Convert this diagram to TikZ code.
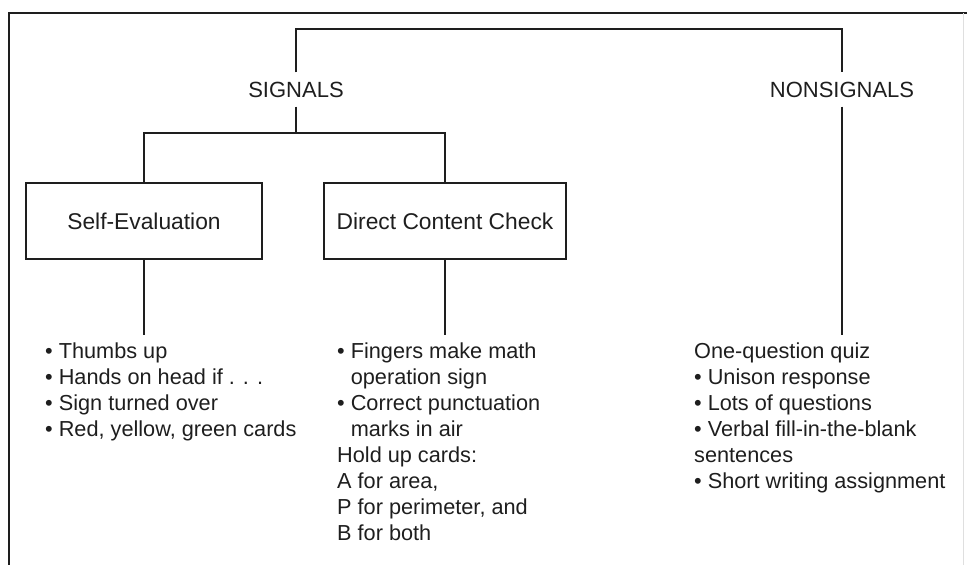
\documentclass[tikz,border=0pt]{standalone}
\usepackage{fontspec}
\setmainfont{Liberation Sans}
\definecolor{ink}{HTML}{1E1E1E}
\begin{document}
\begin{tikzpicture}[x=1pt,y=-1pt,
  line/.style={draw=ink,line width=1.5pt},
  head/.style={font=\fontsize{22}{26}\selectfont, text=ink, text height=15.8pt,
    text depth=0pt, inner xsep=4pt, inner ysep=9pt},
  catbox/.style={draw=ink, line width=1.5pt, font=\fontsize{22.8}{27}\selectfont,
    text=ink, minimum height=76pt, text height=16.3pt, text depth=0pt},
  items/.style={font=\fontsize{21.7}{26}\selectfont, text=ink, align=left,
    inner sep=0pt, anchor=north west}]

\useasboundingbox (0,0) rectangle (967,565);

% outer frame
\draw[ink, line width=1.8pt] (9,565) -- (9,13) -- (967,13);
\draw[gray!25, line width=1pt] (963,13) -- (963,565);

% levels of the tree
\coordinate (topbar) at (0,29);
\coordinate (midbar) at (0,133);

\node[head] (sig) at (296,89.5) {SIGNALS};
\node[head] (nonsig) at (842,89.5) {NONSIGNALS};

\node[catbox, minimum width=236pt] (self) at (144,221) {Self-Evaluation};
\node[catbox, minimum width=242pt] (direct) at (445,221) {Direct Content Check};

% example lists
\node[items] (selflist) at (45,343)
  {• Thumbs up\\• Hands on head if . . .\\• Sign turned over\\• Red, yellow, green cards};
\node[items] (directlist) at (337,343)
  {• Fingers make math\\\hphantom{•\ }operation sign\\• Correct punctuation\\\hphantom{•\ }marks in air\\Hold up cards:\\A for area,\\P for perimeter, and\\B for both};
\node[items] (nonlist) at (694,343)
  {One-question quiz\\• Unison response\\• Lots of questions\\• Verbal fill-in-the-blank\\sentences\\• Short writing assignment};

% connectors
\draw[line] (sig.north) |- (nonsig.north |- topbar) -- (nonsig.north);
\draw[line] (sig.south) -- (sig.south |- midbar);
\draw[line] (self.north) |- (direct.north |- midbar) -- (direct.north);
\draw[line, shorten >=8pt] (self.south) -- (self.south |- selflist.north);
\draw[line, shorten >=8pt] (direct.south) -- (direct.south |- directlist.north);
\draw[line, shorten >=8pt] (nonsig.south) -- (nonsig.south |- nonlist.north);
\end{tikzpicture}
\end{document}
